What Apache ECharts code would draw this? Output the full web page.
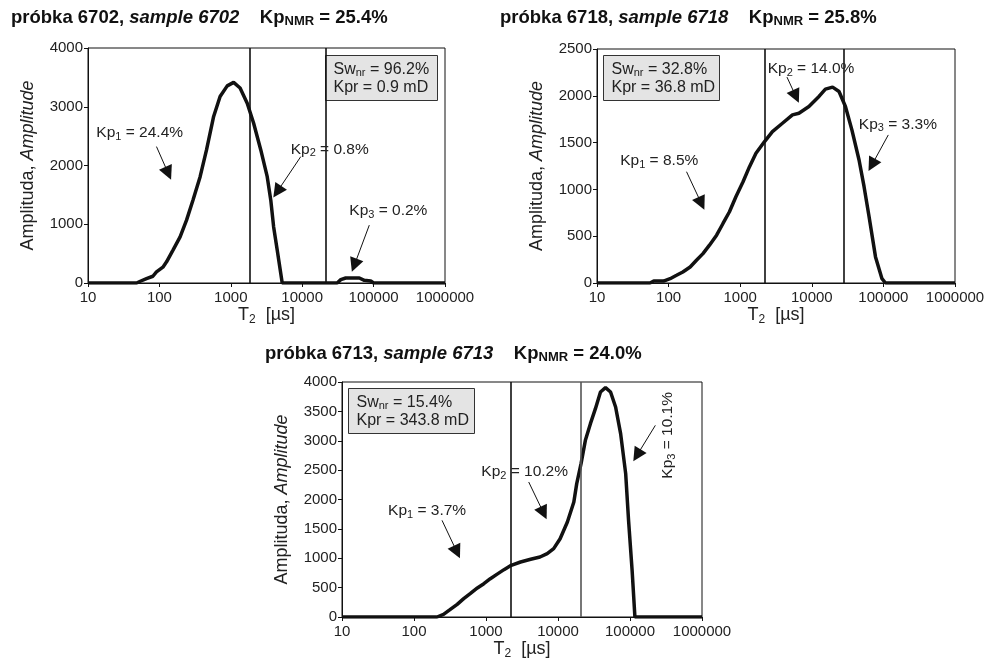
<!DOCTYPE html>
<html>
<head>
<meta charset="utf-8">
<script src="https://cdn.jsdelivr.net/npm/echarts@6/dist/echarts.min.js"></script>
<style>
  html, body { margin: 0; padding: 0; background: #fff; }
  #chart { width: 990px; height: 658px; }
</style>
</head>
<body>
<div id="chart"></div>
<script>
const t2_6702 = [10, 48, 54, 66, 81, 91, 112, 126, 155, 195, 240, 295, 372, 457, 575, 708, 891, 1096, 1349, 1698, 2089, 2630, 3236, 3631, 3981, 4467, 5248, 30900, 34700, 40700, 63100, 74100, 91200, 100000, 1000000];
const amp_6702 = [0, 0, 30, 75, 115, 190, 270, 360, 560, 785, 1070, 1410, 1810, 2265, 2835, 3175, 3355, 3415, 3320, 3060, 2720, 2265, 1810, 1410, 955, 560, 0, 0, 57, 85, 85, 45, 34, 0, 0];

const t2_6718 = [10, 55, 62, 85, 105, 129, 158, 200, 245, 302, 372, 468, 575, 708, 871, 1096, 1349, 1660, 2188, 2818, 3890, 5370, 6610, 9120, 12600, 15500, 19500, 24000, 29500, 36300, 45700, 53700, 63100, 77600, 95500, 107000, 1000000];
const amp_6718 = [0, 0, 21, 21, 46, 82, 118, 171, 243, 314, 404, 511, 636, 761, 921, 1082, 1243, 1386, 1511, 1618, 1707, 1796, 1814, 1886, 1993, 2071, 2093, 2046, 1886, 1636, 1314, 1029, 707, 279, 46, 0, 0];

const t2_6713 = [10, 209, 257, 316, 398, 490, 603, 759, 933, 1148, 1413, 1778, 2239, 3020, 4169, 5623, 7079, 8710, 10700, 13500, 16600, 18200, 20900, 24000, 28200, 33100, 38900, 45700, 53700, 63100, 74100, 87100, 95500, 107000, 117000, 1000000];
const amp_6713 = [0, 0, 45, 125, 215, 312, 397, 494, 567, 652, 726, 806, 879, 936, 982, 1021, 1078, 1163, 1333, 1617, 1957, 2270, 2610, 3007, 3291, 3546, 3830, 3904, 3830, 3574, 3121, 2440, 1645, 794, 0, 0];

// pore class cut-offs (T2)
const cutoffs_6702 = [1840, 21400];
const cutoffs_6718 = [2190, 28000];
const cutoffs_6713 = [2240, 21000];

const samples = ['6702', '6718', '6713'];
const kpNMR = ['25.4%', '25.8%', '24.0%'];
const swnr = ['96.2%', '32.8%', '15.4%'];
const kpr = ['0.9 mD', '36.8 mD', '343.8 mD'];
const kpParts = [['24.4%', '0.8%', '0.2%'], ['8.5%', '14.0%', '3.3%'], ['3.7%', '10.2%', '10.1%']];
const yMax = [4000, 2500, 4000];
const yStep = [1000, 500, 500];

const FONT = 'Liberation Sans, Arial, sans-serif';

// annotation placement (label anchor, arrow from -> to), in data space
const notes = [
  [
    { at: [13.1, 2550], arrow: [[91, 2322], [133, 1867]] },
    { at: [6900, 2277], arrow: [[9550, 2151], [4470, 1554]] },
    { at: [45700, 1229], arrow: [[87000, 985], [53700, 302]] }
  ],
  [
    { at: [21.1, 1307], arrow: [[178, 1189], [287, 850]] },
    { at: [2420, 2286], arrow: [[4500, 2200], [6000, 1993]] },
    { at: [45400, 1696], arrow: [[117000, 1582], [69000, 1261]] }
  ],
  [
    { at: [43.6, 1804], arrow: [[245, 1645], [395, 1106]] },
    { at: [861, 2468], arrow: [[3920, 2298], [6310, 1770]] },
    { at: [337000, 3092], arrow: [[225000, 3262], [125000, 2752]], rotate: 90 }
  ]
];

const grids = [
  { left: 88, top: 48, width: 357, height: 235 },
  { left: 597, top: 49, width: 358, height: 234 },
  { left: 342, top: 382, width: 360, height: 235 }
];
const titlePos = [[11, 7], [500, 7], [265, 343]];
const boxPos = [[325, 55, 112], [603, 55, 116], [348, 388, 126]];

const curves = [[t2_6702, amp_6702], [t2_6718, amp_6718], [t2_6713, amp_6713]];
const cutoffs = [cutoffs_6702, cutoffs_6718, cutoffs_6713];

const subRich = {
  n: { fontSize: 15.5, fontFamily: FONT, color: '#222' },
  s: { fontSize: 11, fontFamily: FONT, color: '#222', padding: [8, 0, 0, 0] }
};

const option = {
  animation: false,
  backgroundColor: '#fff',
  title: [],
  grid: [],
  xAxis: [],
  yAxis: [],
  series: [],
  graphic: []
};

samples.forEach((s, i) => {
  option.title.push({
    left: titlePos[i][0], top: titlePos[i][1], padding: 0,
    text: `{b|próbka ${s}, }{i|sample ${s}}{b|    Kp}{s|NMR}{b| = ${kpNMR[i]}}`,
    textStyle: {
      rich: {
        b: { fontSize: 18.5, fontWeight: 'bold', fontFamily: FONT, color: '#111' },
        i: { fontSize: 18.5, fontWeight: 'bold', fontStyle: 'italic', fontFamily: FONT, color: '#111' },
        s: { fontSize: 13, fontWeight: 'bold', fontFamily: FONT, color: '#111', padding: [8, 0, 0, 0] }
      }
    }
  });
  option.grid.push(Object.assign({ show: true, borderColor: '#111', borderWidth: 1, outerBoundsMode: 'none', containLabel: false }, grids[i]));
  option.xAxis.push({
    gridIndex: i, type: 'log', logBase: 10, min: 10, max: 1000000,
    name: '{n|T}{s|2}{n|  [µs]}', nameLocation: 'middle', nameGap: 20,
    nameTextStyle: {
      rich: {
        n: { fontSize: 18, fontFamily: FONT, color: '#222' },
        s: { fontSize: 12, fontFamily: FONT, color: '#222', padding: [9, 0, 0, 0] }
      }
    },
    axisLine: { lineStyle: { color: '#111', width: 1 } },
    axisTick: { show: true, length: 4, lineStyle: { color: '#111' } },
    minorTick: { show: false },
    splitLine: { show: false },
    axisLabel: { fontSize: 15, fontFamily: FONT, color: '#222', margin: 7, showMaxLabel: true, formatter: v => String(Math.round(v)) }
  });
  option.yAxis.push({
    gridIndex: i, type: 'value', min: 0, max: yMax[i], interval: yStep[i],
    name: '{r|Amplituda, }{i|Amplitude}', nameLocation: 'middle', nameGap: 51, nameRotate: 90,
    nameTextStyle: {
      rich: {
        r: { fontSize: 18, fontFamily: FONT, color: '#222' },
        i: { fontSize: 18, fontStyle: 'italic', fontFamily: FONT, color: '#222' }
      }
    },
    axisLine: { show: true, lineStyle: { color: '#111', width: 1 } },
    axisTick: { show: true, length: 4, lineStyle: { color: '#111' } },
    splitLine: { show: false },
    axisLabel: { fontSize: 15, fontFamily: FONT, color: '#222', margin: 5, formatter: v => String(v) }
  });

  const mlData = cutoffs[i].map((v, k) => ({
    xAxis: v, symbol: 'none',
    lineStyle: { color: (i === 2 && k === 1) ? '#555' : '#111', width: 1.6, type: 'solid' }
  }));
  notes[i].forEach(n => {
    mlData.push([
      { coord: n.arrow[0], symbol: 'none', lineStyle: { color: '#111', width: 1, type: 'solid' } },
      { coord: n.arrow[1], symbol: 'triangle', symbolSize: 14, lineStyle: { color: '#111', width: 1, type: 'solid' } }
    ]);
  });

  option.series.push({
    type: 'line',
    xAxisIndex: i, yAxisIndex: i,
    data: curves[i][0].map((t, k) => [t, curves[i][1][k]]),
    showSymbol: false,
    symbol: 'none',
    lineStyle: { color: '#111', width: 3.5 },
    z: 3,
    markLine: {
      silent: true, symbol: 'none', label: { show: false },
      data: mlData
    },
    markPoint: {
      silent: true,
      data: notes[i].map((n, k) => ({
        coord: n.at, symbol: 'circle', symbolSize: 0,
        label: {
          show: true,
          position: n.rotate ? 'inside' : 'right',
          distance: 0,
          rotate: n.rotate || 0,
          formatter: `{n|Kp}{s|${k + 1}}{n| = ${kpParts[i][k]}}`,
          rich: subRich
        }
      }))
    }
  });

  const [bx, by, bw] = boxPos[i];
  option.graphic.push({
    type: 'group', left: bx, top: by,
    children: [
      { type: 'rect', shape: { x: 0, y: 0, width: bw, height: 45 }, style: { fill: '#e4e4e4', stroke: '#333', lineWidth: 1 } },
      {
        type: 'text', left: 8, top: 5,
        style: {
          text: `{a|Sw}{s|nr}{a| = ${swnr[i]}}\n{a|Kpr = ${kpr[i]}}`,
          rich: {
            a: { fontSize: 16, fontFamily: FONT, fill: '#222', lineHeight: 18 },
            s: { fontSize: 11, fontFamily: FONT, fill: '#222', lineHeight: 18, padding: [7, 0, 0, 0] }
          }
        }
      }
    ]
  });
});

const chart = echarts.init(document.getElementById('chart'), null, { renderer: 'canvas' });
chart.setOption(option);
</script>
</body>
</html>
